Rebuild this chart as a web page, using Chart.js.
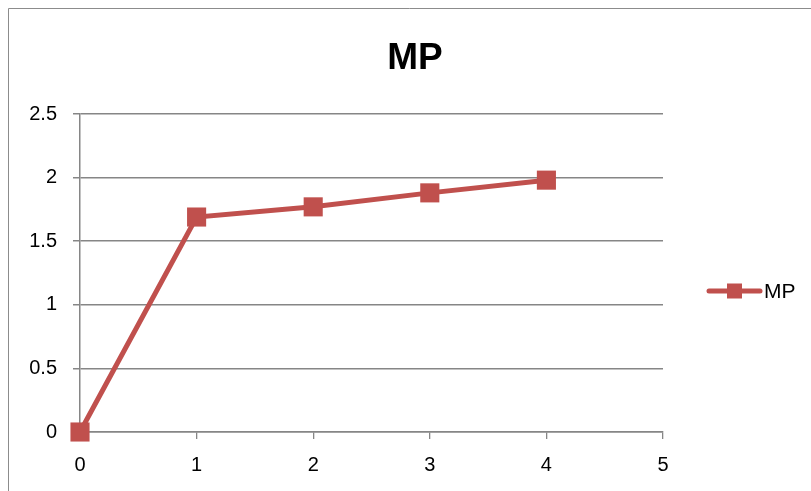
<!DOCTYPE html>
<html>
<head>
<meta charset="utf-8">
<script src="https://cdn.jsdelivr.net/npm/chart.js@4/dist/chart.umd.min.js"></script>
<style>
  html, body { margin: 0; padding: 0; background: #ffffff; }
  #wrap { position: relative; width: 811px; height: 491px; }
</style>
</head>
<body>
<div id="wrap"><canvas id="c" width="811" height="491"></canvas></div>
<script>
// MP series
const xValues = [0, 1, 2, 3, 4];
const mpValues = [0, 1.69, 1.77, 1.88, 1.98];
const seriesName = 'MP';
const chartTitle = 'MP';
const xTicks = [0, 1, 2, 3, 4, 5];
const yTicks = [0, 0.5, 1, 1.5, 2, 2.5];

const RED = '#C0504D';
const GRID = '#868686';
const FONT = '"Liberation Sans", Arial, sans-serif';

// Outer frame, title and legend are painted around the plot
const decor = {
  id: 'decor',
  beforeDraw(chart) {
    const ctx = chart.ctx;
    ctx.save();
    ctx.strokeStyle = '#8c8c8c';
    ctx.lineWidth = 1;
    ctx.beginPath();
    ctx.moveTo(8.5, 491);
    ctx.lineTo(8.5, 8.5);
    ctx.lineTo(811, 8.5);
    ctx.stroke();
    ctx.restore();
  },
  afterDraw(chart) {
    const ctx = chart.ctx;
    const ds = chart.data.datasets[0];
    ctx.save();
    // title
    ctx.fillStyle = '#000';
    ctx.font = 'bold 37px ' + FONT;
    ctx.textAlign = 'center';
    ctx.textBaseline = 'alphabetic';
    ctx.fillText(chartTitle, 415, 69);
    // legend entry
    const ly = 291;
    ctx.strokeStyle = ds.borderColor;
    ctx.lineWidth = 5;
    ctx.lineCap = 'round';
    ctx.beginPath();
    ctx.moveTo(709, ly);
    ctx.lineTo(760, ly);
    ctx.stroke();
    ctx.fillStyle = ds.pointBackgroundColor;
    ctx.fillRect(727, ly - 7.5, 15, 15);
    ctx.fillStyle = '#000';
    ctx.font = '21px ' + FONT;
    ctx.textAlign = 'left';
    ctx.textBaseline = 'middle';
    ctx.fillText(ds.label, 764, ly + 1);
    ctx.restore();
  }
};

const tickFont = { family: FONT, size: 20 };

new Chart(document.getElementById('c'), {
  type: 'scatter',
  data: {
    datasets: [{
      label: seriesName,
      data: xValues.map((x, i) => ({ x: x, y: mpValues[i] })),
      showLine: true,
      borderColor: RED,
      borderWidth: 5,
      backgroundColor: RED,
      pointStyle: 'rect',
      pointRadius: 13.5,
      pointHoverRadius: 13.5,
      pointBackgroundColor: RED,
      pointBorderColor: RED,
      pointBorderWidth: 0,
      tension: 0,
      clip: false
    }]
  },
  options: {
    responsive: false,
    animation: false,
    events: [],
    layout: { padding: { left: 0, top: 114, right: 148, bottom: 0 } },
    plugins: {
      legend: { display: false },
      title: { display: false },
      tooltip: { enabled: false }
    },
    scales: {
      x: {
        type: 'linear',
        min: 0,
        max: 5,
        afterBuildTicks: s => { s.ticks = xTicks.map(v => ({ value: v })); },
        afterFit: s => { s.height = 59; },
        grid: { drawOnChartArea: false, drawTicks: true, tickLength: 7, color: GRID, lineWidth: 1.3 },
        border: { display: true, color: GRID, width: 1.5 },
        ticks: { color: '#000', font: tickFont, padding: 14, maxRotation: 0, callback: v => String(v) }
      },
      y: {
        min: 0,
        max: 2.5,
        afterBuildTicks: s => { s.ticks = yTicks.map(v => ({ value: v })); },
        afterFit: s => { s.width = 80; },
        grid: { drawOnChartArea: true, drawTicks: true, tickLength: 7, color: GRID, lineWidth: 1.5 },
        border: { display: true, color: GRID, width: 1.5 },
        ticks: { color: '#000', font: tickFont, padding: 16, callback: v => String(v) }
      }
    }
  },
  plugins: [decor]
});
</script>
</body>
</html>
